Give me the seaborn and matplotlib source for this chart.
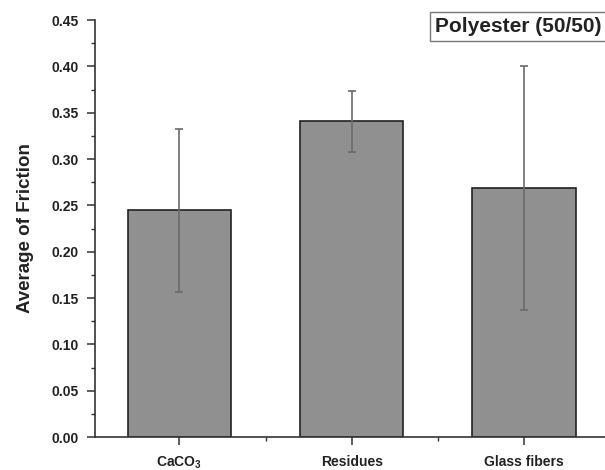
import matplotlib
matplotlib.use("Agg")
import matplotlib.pyplot as plt
import seaborn as sns
import pandas as pd
from matplotlib.ticker import MultipleLocator

categories = ["CaCO$_3$", "Residues", "Glass fibers"]
means = [0.245, 0.341, 0.269]
errors = [0.088, 0.033, 0.132]
yticks = [0.00, 0.05, 0.10, 0.15, 0.20, 0.25, 0.30, 0.35, 0.40, 0.45]

sns.set_style("ticks")
plt.rcParams['font.family'] = ['Liberation Sans', 'DejaVu Sans']
plt.rcParams['mathtext.fontset'] = 'custom'
plt.rcParams['mathtext.rm'] = 'Liberation Sans:bold'
plt.rcParams['mathtext.it'] = 'Liberation Sans:bold'

df = pd.DataFrame({"cat": categories, "val": means})

fig = plt.figure(figsize=(6.05, 4.7), dpi=100)
ax = fig.add_axes([0.157, 0.0702, 0.843, 0.887])

sns.barplot(data=df, x="cat", y="val", color="#909090", edgecolor="#222222",
            linewidth=1.2, width=0.6, errorbar=None, ax=ax, saturation=1)
ax.errorbar(range(len(categories)), means, yerr=errors, fmt="none",
            ecolor="#6a6a6a", elinewidth=1.2, capsize=3, capthick=1.2)

ax.set_xlim(-0.49, 2.47)
ax.set_ylim(0, 0.45)
ax.set_yticks(yticks)
ax.set_yticklabels([f"{t:.2f}" for t in yticks])
ax.yaxis.set_minor_locator(MultipleLocator(0.025))
ax.set_xticks([0, 1, 2])
ax.set_xticks([0.5, 1.5], minor=True)
ax.set_xticklabels(categories)
ax.tick_params(axis="both", which="major", labelsize=10, length=6, width=1.1,
               colors="#333333", pad=6)
ax.tick_params(axis="x", which="major", pad=7)
ax.tick_params(axis="both", which="minor", length=3, width=1, colors="#333333")
for lbl in ax.get_xticklabels() + ax.get_yticklabels():
    lbl.set_fontweight("bold")
    lbl.set_color("#222222")
ax.set_xlabel("")
ax.set_ylabel("Average of Friction", fontsize=13.5, fontweight="bold", color="#222222", labelpad=12)

for s in ["top", "right"]:
    ax.spines[s].set_visible(False)
for s in ["left", "bottom"]:
    ax.spines[s].set_linewidth(1.2)
    ax.spines[s].set_color("#333333")

ax.text(0.993, 0.985, "Polyester (50/50)", transform=ax.transAxes, ha="right", va="center",
        fontsize=15, fontweight="bold", color="#222222",
        bbox=dict(boxstyle="square,pad=0.25", facecolor="white", edgecolor="#777777", linewidth=1))

fig.savefig("out.png", dpi=100)
